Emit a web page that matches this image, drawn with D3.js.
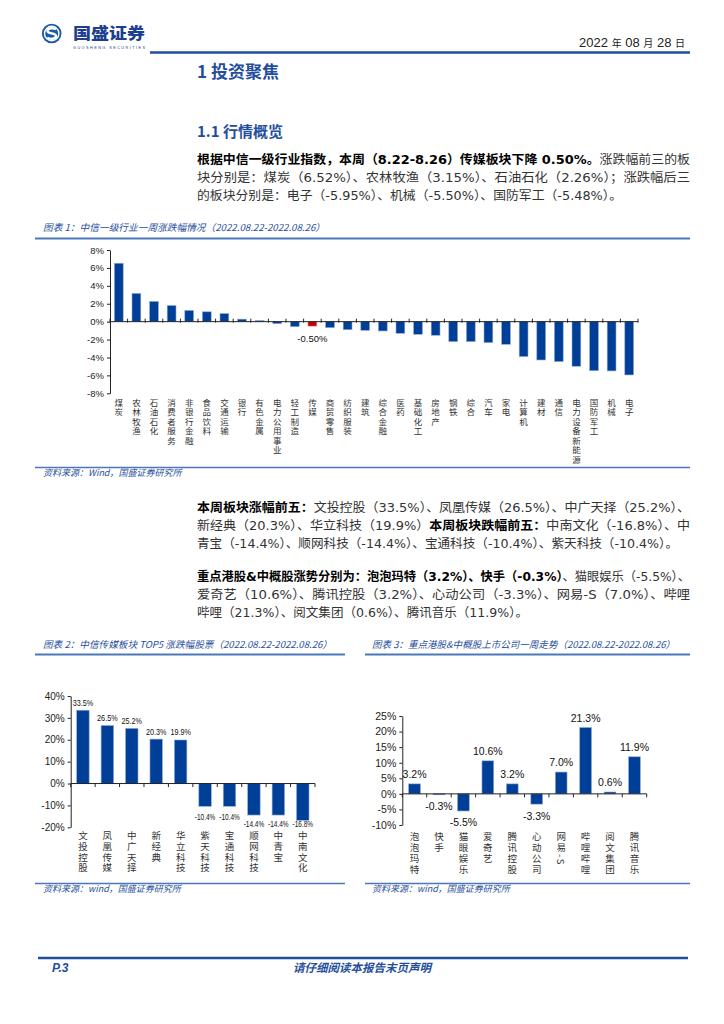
<!DOCTYPE html>
<html><head><meta charset="utf-8">
<script src="https://cdn.jsdelivr.net/npm/d3@7/dist/d3.min.js"></script>
<style>
body{margin:0;background:#fff;}
svg{display:block;}
.vt{writing-mode:vertical-rl;text-orientation:mixed;}
</style></head>
<body>
<svg id="page" width="724" height="1024"></svg>
<script>
// ===== DATA =====
const indNames = ['煤炭','农林牧渔','石油石化','消费者服务','非银行金融','食品饮料','交通运输','银行','有色金属','电力公用事业','轻工制造','传媒','商贸零售','纺织服装','建筑','综合金融','医药','基础化工','房地产','钢铁','综合','汽车','家电','计算机','建材','通信','电力设备新能源','国防军工','机械','电子'];
const indValues = [6.52,3.15,2.26,1.8,1.25,1.1,0.9,0.28,0.12,-0.22,-0.56,-0.50,-0.67,-0.9,-0.97,-1.04,-1.3,-1.41,-1.52,-2.23,-2.23,-2.34,-2.53,-3.9,-4.28,-4.46,-4.98,-5.48,-5.50,-5.95];
const indTicks = [-8,-6,-4,-2,0,2,4,6,8];
const indHighlight = '传媒';

const mediaNames = ['文投控股','凤凰传媒','中广天择','新经典','华立科技','紫天科技','宝通科技','顺网科技','中青宝','中南文化'];
const mediaValues = [33.5,26.5,25.2,20.3,19.9,-10.4,-10.4,-14.4,-14.4,-16.8];
const mediaTicks = [-20,-10,0,10,20,30,40];

const hkNames = ['泡泡玛特','快手','猫眼娱乐','爱奇艺','腾讯控股','心动公司','网易-S','哔哩哔哩','阅文集团','腾讯音乐'];
const hkValues = [3.2,-0.3,-5.5,10.6,3.2,-3.3,7.0,21.3,0.6,11.9];
const hkTicks = [-10,-5,0,5,10,15,20,25];

// ===== STYLE =====
const BLUE = '#1f4e9c', BAR = '#003f98', RED = '#c00000', LINEBLUE = '#4a78bd';
const CJK = '"Noto Sans CJK SC", sans-serif';
const LAT = '"Liberation Sans", Arial, sans-serif';
const BODY = '"DejaVu Sans", "Noto Sans CJK SC", sans-serif';

const svg = d3.select('#page');

// ===== HEADER =====
const logo = svg.append('g');
logo.append('circle').attr('cx',51.7).attr('cy',33.5).attr('r',9.8).attr('fill','#1a5aa8');
logo.append('circle').attr('cx',51.7).attr('cy',33.5).attr('r',7.2).attr('fill','none').attr('stroke','#fff').attr('stroke-width',1.4);
logo.append('path').attr('d','M56,29.5 C54,27.5 47.5,27.8 47.5,31 C47.5,34.3 56,32.5 56,36 C56,39.2 49.5,39.6 47.3,37.5')
  .attr('fill','none').attr('stroke','#fff').attr('stroke-width',2.4);
svg.append('text').attr('x',73).attr('y',39).attr('font-family',CJK).attr('font-weight',900).attr('font-size',15.5)
  .attr('fill','#1d3f8f').attr('textLength',72).attr('lengthAdjust','spacingAndGlyphs').text('国盛证券');
svg.append('text').attr('x',73).attr('y',48.5).attr('font-family',LAT).attr('font-size',3.8).attr('fill','#1d3f8f')
  .attr('textLength',72).text('GUOSHENG SECURITIES');
const dt = svg.append('text').attr('x',685).attr('y',47).attr('text-anchor','end').attr('font-family',LAT).attr('font-size',13).attr('fill','#222');
dt.append('tspan').text('2022 ');
dt.append('tspan').attr('font-family',CJK).attr('font-size',10).text('年');
dt.append('tspan').text(' 08 ');
dt.append('tspan').attr('font-family',CJK).attr('font-size',10).text('月');
dt.append('tspan').text(' 28 ');
dt.append('tspan').attr('font-family',CJK).attr('font-size',10).text('日');
svg.append('line').attr('x1',150).attr('x2',690).attr('y1',52.5).attr('y2',52.5).attr('stroke',BLUE).attr('stroke-width',2.5);

// ===== HEADINGS =====
svg.append('text').attr('x',197).attr('y',78).attr('font-family',CJK).attr('font-weight',700).attr('font-size',17).attr('fill',BLUE).text('1 投资聚焦');
svg.append('text').attr('x',197).attr('y',137).attr('font-family',CJK).attr('font-weight',700).attr('font-size',15).attr('fill',BLUE).text('1.1 行情概览');

// ===== BODY TEXT =====
function para(lines, y0, widths){
  lines.forEach((segs,i)=>{
    const t = svg.append('text').attr('x',197).attr('y',y0+i*18).attr('font-family',BODY).attr('font-size',12.5)
      .attr('textLength',widths[i]).attr('lengthAdjust','spacingAndGlyphs');
    segs.forEach(s=>{ t.append('tspan').attr('font-weight',s[1]?700:400).attr('fill',s[1]?'#000':'#333').text(s[0]); });
  });
}
para([
  [['根据中信一级行业指数，本周（8.22-8.26）传媒板块下降 0.50%。',1],['涨跌幅前三的板',0]],
  [['块分别是：煤炭（6.52%）、农林牧渔（3.15%）、石油石化（2.26%）；涨跌幅后三',0]],
  [['的板块分别是：电子（-5.95%）、机械（-5.50%）、国防军工（-5.48%）。',0]]
], 164, [493,493,425]);
para([
  [['本周板块涨幅前五：',1],['文投控股（33.5%）、凤凰传媒（26.5%）、中广天择（25.2%）、',0]],
  [['新经典（20.3%）、华立科技（19.9%）',0],['本周板块跌幅前五：',1],['中南文化（-16.8%）、中',0]],
  [['青宝（-14.4%）、顺网科技（-14.4%）、宝通科技（-10.4%）、紫天科技（-10.4%）。',0]]
], 512, [493,493,481]);
para([
  [['重点港股&中概股涨势分别为：泡泡玛特（3.2%）、快手（-0.3%）',1],['、猫眼娱乐（-5.5%）、',0]],
  [['爱奇艺（10.6%）、腾讯控股（3.2%）、心动公司（-3.3%）、网易-S（7.0%）、哔哩',0]],
  [['哔哩（21.3%）、阅文集团（0.6%）、腾讯音乐（11.9%）。',0]]
], 581, [493,493,331]);

// ===== FIGURE TITLES / SOURCES =====
function figTitle(x, y, w, txt, lx1, lx2, ly){
  svg.append('text').attr('x',x).attr('y',y).attr('font-family',CJK).attr('font-style','italic').attr('font-size',9.5)
    .attr('fill',BLUE).attr('textLength',w).attr('lengthAdjust','spacingAndGlyphs').text(txt);
  svg.append('line').attr('x1',lx1).attr('x2',lx2).attr('y1',ly).attr('y2',ly).attr('stroke',LINEBLUE).attr('stroke-width',2);
}
function source(x, y, txt, lx1, lx2, ly){
  svg.append('line').attr('x1',lx1).attr('x2',lx2).attr('y1',ly).attr('y2',ly).attr('stroke',LINEBLUE).attr('stroke-width',1.5);
  svg.append('text').attr('x',x).attr('y',y).attr('font-family',CJK).attr('font-style','italic').attr('font-size',9)
    .attr('fill',BLUE).text(txt);
}
figTitle(43,231,282,'图表 1：中信一级行业一周涨跌幅情况（2022.08.22-2022.08.26）',35,690,238.5);
source(43,476,'资料来源：Wind，国盛证券研究所',35,690,467.5);
figTitle(43,648,289,'图表 2：中信传媒板块 TOP5 涨跌幅股票（2022.08.22-2022.08.26）',35,345,654.5);
figTitle(372,648,303,'图表 3：重点港股&中概股上市公司一周走势（2022.08.22-2022.08.26）',365,690,654.5);
source(43,892,'资料来源：wind，国盛证券研究所',35,345,883.5);
source(372,892,'资料来源：wind，国盛证券研究所',365,690,883.5);

// ===== FOOTER =====
svg.append('line').attr('x1',38).attr('x2',688).attr('y1',958).attr('y2',958).attr('stroke',BLUE).attr('stroke-width',2.5);
svg.append('text').attr('x',52).attr('y',972).attr('font-family',LAT).attr('font-weight',700).attr('font-style','italic').attr('font-size',12).attr('fill',BLUE).text('P.3');
svg.append('text').attr('x',362).attr('y',972).attr('text-anchor','middle').attr('font-family',CJK).attr('font-weight',700).attr('font-style','italic').attr('font-size',11.5).attr('fill',BLUE).text('请仔细阅读本报告末页声明');

// ===== CHART HELPER =====
function chart(opt){
  const g = svg.append('g');
  const x = d3.scaleBand().domain(opt.names).range(opt.xr).paddingInner(opt.pad).paddingOuter(opt.pad/2);
  const y = d3.scaleLinear().domain(opt.yd).range(opt.yr);
  // bars
  g.selectAll('rect.bar').data(opt.names).join('rect').attr('class','bar')
    .attr('x',d=>x(d)).attr('width',x.bandwidth())
    .attr('y',(d,i)=>y(Math.max(0,opt.values[i])))
    .attr('height',(d,i)=>Math.abs(y(opt.values[i])-y(0)))
    .attr('fill',d=>d===opt.highlight?RED:BAR)
    .attr('stroke',d=>d===opt.highlight?'#e89a9a':'#8fa9d6').attr('stroke-width',0.6);
  // y axis
  const ya = g.append('g').attr('transform',`translate(${opt.xr[0]},0)`)
    .call(d3.axisLeft(y).tickValues(opt.ticks).tickSize(3).tickSizeOuter(0).tickPadding(3).tickFormat(d=>d+'%'));
  ya.select('.domain').attr('stroke','#222');
  ya.selectAll('line').attr('stroke','#222');
  ya.selectAll('text').attr('font-family',LAT).attr('font-size',opt.tfs).attr('fill','#222');
  // x axis line at zero with ticks at band edges
  const y0 = y(0);
  g.append('line').attr('x1',opt.xr[0]).attr('x2',opt.xr[1]).attr('y1',y0).attr('y2',y0).attr('stroke','#222').attr('stroke-width',1);
  const edges = d3.range(opt.names.length+1).map(i=>opt.xr[0]+i*x.step());
  g.selectAll('line.xt').data(edges).join('line').attr('class','xt')
    .attr('x1',d=>d).attr('x2',d=>d).attr('y1',y0+opt.tk[0]).attr('y2',y0+opt.tk[1]).attr('stroke','#222');
  // category labels (vertical text)
  g.selectAll('text.cat').data(opt.names).join('text').attr('class','cat vt')
    .attr('x',d=>x(d)+x.bandwidth()/2).attr('y',opt.ly)
    .attr('font-family',CJK).attr('font-size',opt.lfs).attr('letter-spacing',opt.lsp).attr('fill','#333')
    .text(d=>d);
  // value labels
  opt.names.forEach((n,i)=>{
    const v = opt.values[i];
    if(!opt.showLabel(n)) return;
    let ly = v>=0 ? y(v)-opt.lab[0] : y(v)+opt.lab[1];
    if(opt.maxy) ly = Math.min(ly, opt.maxy);
    const t = g.append('text').attr('x',x(n)+x.bandwidth()/2)
      .attr('y', ly)
      .attr('text-anchor','middle').attr('font-family',LAT).attr('font-size',opt.vfs).attr('fill','#111')
      .text(opt.fmt(v));
    const w = t.node().getComputedTextLength();
    if(opt.maxw && w>opt.maxw) t.attr('textLength',opt.maxw).attr('lengthAdjust','spacingAndGlyphs');
  });
}

chart({names:indNames, values:indValues, ticks:indTicks, highlight:indHighlight,
  xr:[110,638], yd:[-8,8], yr:[393.3,250], pad:0.5, tfs:9.5, tk:[-3,1],
  ly:398.5, lfs:8.5, lsp:1, vfs:9.5, lab:[4,16],
  showLabel:n=>n===indHighlight, fmt:v=>v.toFixed(2)+'%'});

chart({names:mediaNames, values:mediaValues, ticks:mediaTicks, highlight:null,
  xr:[70.7,315], yd:[-20,40], yr:[827.3,696], pad:0.49, tfs:10, tk:[0,3.5],
  ly:831, lfs:9.5, lsp:1.2, vfs:9, lab:[4.5,14], maxw:20.5, maxy:826.5,
  showLabel:()=>true, fmt:v=>v.toFixed(1)+'%'});

chart({names:hkNames, values:hkValues, ticks:hkTicks, highlight:null,
  xr:[402.3,646.7], yd:[-10,25], yr:[825,716], pad:0.52, tfs:10.5, tk:[0,3.5],
  ly:832, lfs:9.5, lsp:1.5, vfs:10.5, lab:[6,15.5],
  showLabel:()=>true, fmt:v=>v.toFixed(1)+'%'});
</script>
</body></html>
